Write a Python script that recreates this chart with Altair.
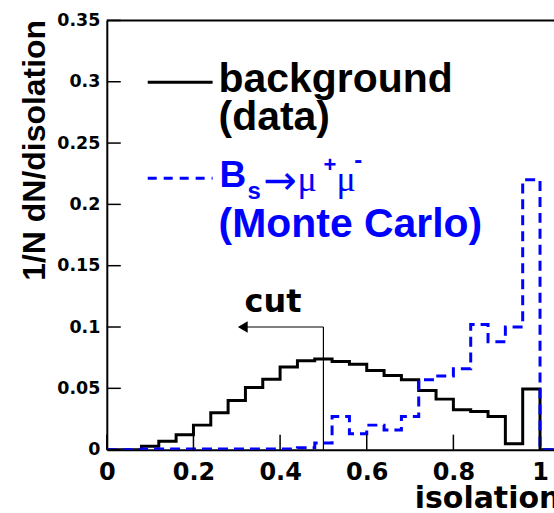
import altair as alt
import pandas as pd

# ---------------- data ----------------
BIN_WIDTH = 0.04
EDGES = [round(BIN_WIDTH * i, 2) for i in range(27)]  # 0 ... 1.04

BACKGROUND = [0, 0, 0.0027, 0.0068, 0.0122, 0.020, 0.030, 0.040, 0.0507,
              0.0575, 0.0673, 0.0724, 0.0740, 0.0719, 0.0697, 0.0646, 0.0605,
              0.057, 0.0483, 0.0412, 0.0326, 0.0312, 0.0271, 0.0049, 0.0494]
SIGNAL = [0, 0, 0.0005, 0.0005, 0.0005, 0.0005, 0.0005, 0.0005, 0.0005,
          0.0005, 0.0005, 0.0015, 0.0055, 0.027, 0.013, 0.020, 0.016, 0.027,
          0.057, 0.060, 0.066, 0.102, 0.088, 0.100, 0.220]

Y_TICKS = [0, 0.05, 0.1, 0.15, 0.2, 0.25, 0.3, 0.35]
X_TICKS = [0, 0.2, 0.4, 0.6, 0.8, 1.0]
CUT_X = 0.5
CUT_Y = 0.1
ARROW_TIP = 0.30

# ---------------- layout ----------------
PAD_L, PAD_T = 107, 20
W, H = 448, 430
PX_PER_UNIT = 434
X_MAX = W / PX_PER_UNIT
Y_MAX = 0.35
BLUE = "#0000ff"


def steps(vals):
    return pd.DataFrame({"x": EDGES, "y": list(vals) + [0.0, 0.0]})


xs = alt.Scale(domain=[0, X_MAX], nice=False, zero=False)
ys = alt.Scale(domain=[0, Y_MAX], nice=False, zero=False)
one = pd.DataFrame({"a": [0]})

x_axis = alt.Axis(values=X_TICKS, format="~g", grid=False, ticks=False, tickSize=0,
                  domainWidth=2, domainColor="black", labelFont="DejaVu Sans",
                  labelFontWeight="bold", labelFontSize=24, labelColor="black",
                  labelPadding=10.5, labelFlush=False, labelOverlap=False,
                  title="isolation", titleFont="DejaVu Sans", titleFontWeight="bold",
                  titleFontSize=30, titleColor="black", titleAlign="left",
                  titleBaseline="alphabetic", titleX=415 - PAD_L, titleY=58)
y_axis = alt.Axis(values=Y_TICKS, format="~g", grid=False, ticks=False, tickSize=0,
                  domainWidth=2, domainColor="black", labelFont="DejaVu Sans",
                  labelFontWeight="bold", labelFontSize=17.5, labelColor="black",
                  labelPadding=7, labelFlush=False, labelOverlap=False,
                  title="1/N dN/disolation", titleFont="Liberation Sans",
                  titleFontWeight="bold", titleFontSize=32, titleColor="black",
                  titleAngle=-90, titleAlign="right", titleBaseline="alphabetic",
                  titleX=45 - PAD_L, titleY=-1)


def X(field):
    return alt.X(field, type="quantitative", scale=xs, axis=x_axis)


def Y(field):
    return alt.Y(field, type="quantitative", scale=ys, axis=y_axis)


background = alt.Chart(steps(BACKGROUND)).mark_line(
    interpolate="step-after", color="black", strokeWidth=3, clip=True
).encode(x=X("x"), y=Y("y"))

signal = alt.Chart(steps(SIGNAL)).mark_line(
    interpolate="step-after", color=BLUE, strokeWidth=3, strokeDash=[10, 6], clip=True
).encode(x=X("x"), y=Y("y"))

ytick_df = pd.DataFrame({"v": Y_TICKS})
xtick_df = pd.DataFrame({"v": X_TICKS})
yticks = alt.Chart(ytick_df).mark_rule(color="black", strokeWidth=1.5).encode(
    y=Y("v"), x=alt.value(0), x2=alt.value(14))
xticks = alt.Chart(xtick_df).mark_rule(color="black", strokeWidth=1.5).encode(
    x=X("v"), y=alt.value(H), y2=alt.value(H - 15))
top_border = alt.Chart(one).mark_rule(color="black", strokeWidth=2).encode(
    x=alt.value(0), x2=alt.value(W), y=alt.value(0))

cut_df = pd.DataFrame({"x": [CUT_X], "y0": [0.0], "y": [CUT_Y], "tip": [ARROW_TIP],
                       "head": [ARROW_TIP + 6 / PX_PER_UNIT]})
cut_v = alt.Chart(cut_df).mark_rule(color="black", strokeWidth=1.2).encode(
    x=X("x"), y=Y("y0"), y2="y:Q")
cut_h = alt.Chart(cut_df).mark_rule(color="black", strokeWidth=1.2).encode(
    x=X("head"), x2="x:Q", y=Y("y"))
cut_head = alt.Chart(cut_df).mark_point(
    shape="triangle-left", filled=True, size=130, color="black", opacity=1
).encode(x=X("head"), y=Y("y"))


def label(text, px, py, size, font="Liberation Sans", color="black", weight="bold",
          baseline="alphabetic", align="left"):
    return alt.Chart(one).mark_text(
        text=text, font=font, fontSize=size, fontWeight=weight, color=color,
        align=align, baseline=baseline
    ).encode(x=alt.value(px - PAD_L), y=alt.value(py - PAD_T))


cut_text = label("cut", 245, 312, 32, font="DejaVu Sans")

leg_black = alt.Chart(one).mark_rule(color="black", strokeWidth=3).encode(
    x=alt.value(148 - PAD_L), x2=alt.value(213 - PAD_L), y=alt.value(82 - PAD_T))
leg_blue = alt.Chart(one).mark_rule(color=BLUE, strokeWidth=3, strokeDash=[9, 7]).encode(
    x=alt.value(148 - PAD_L), x2=alt.value(213 - PAD_L), y=alt.value(178 - PAD_T))

texts = [
    label("background", 219, 92, 41),
    label("(data)", 219, 130, 41),
    label("B", 220, 187, 37, color=BLUE),
    label("s", 248, 199, 24, color=BLUE),
    label("\u2192", 264, 182, 40, font="DejaVu Sans", color=BLUE, weight="normal",
          baseline="middle"),
    label("\u03bc", 298, 191, 36, font="Liberation Serif", color=BLUE, weight="normal"),
    label("+", 324, 172, 22, color=BLUE),
    label("\u03bc", 337, 191, 36, font="Liberation Serif", color=BLUE, weight="normal"),
    label("-", 355, 168, 24, color=BLUE),
    label("(Monte Carlo)", 219, 237, 41, color=BLUE),
]

chart = alt.layer(
    background, signal, yticks, xticks, top_border, cut_v, cut_h, cut_head, cut_text,
    leg_black, leg_blue, *texts
).properties(
    width=W, height=H,
    autosize=alt.AutoSizeParams(type="none"),
    padding={"left": PAD_L, "top": PAD_T, "right": 0, "bottom": 513 - PAD_T - H},
    background="white",
).configure_view(strokeWidth=0)

chart.save("out.html", embed_options={"renderer": "svg", "actions": False})
